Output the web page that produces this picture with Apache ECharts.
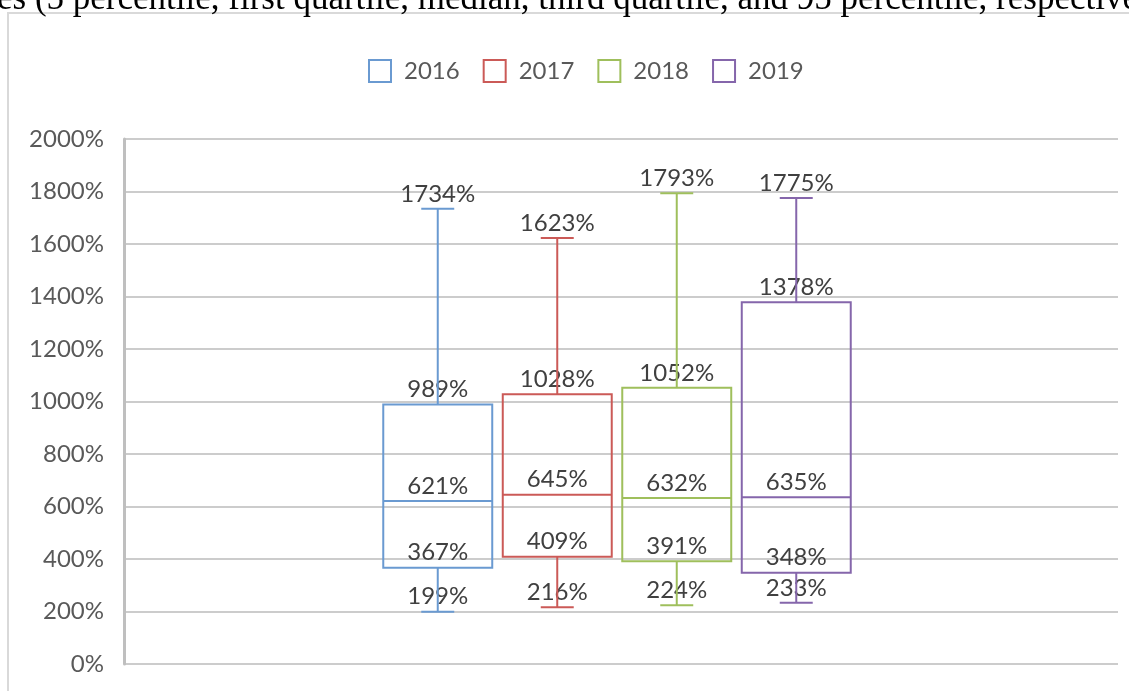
<!DOCTYPE html>
<html>
<head>
<meta charset="utf-8">
<script src="https://cdn.jsdelivr.net/npm/echarts@6/dist/echarts.min.js"></script>
<style>
  html, body { margin: 0; padding: 0; background: #ffffff; }
  #chart { width: 1129px; height: 691px; }
</style>
</head>
<body>
<div id="chart"></div>
<script>
// ---- data ----
const years  = ['2016', '2017', '2018', '2019'];
const p5     = [199, 216, 224, 233];
const q1     = [367, 409, 391, 348];
const median = [621, 645, 632, 635];
const q3     = [989, 1028, 1052, 1378];
const p95    = [1734, 1623, 1793, 1775];
const yMin = 0, yMax = 2000, yStep = 200;
const caption = 'es (5 percentile, first quartile, median, third quartile, and 95 percentile, respectively)';

// ---- styles ----
const colors = ['#6a9ad1', '#cb5a57', '#9fbf5c', '#8566ab'];
const labelColor = '#404040';
const axisColor = '#595959';
const labelFont = '24px Lato';

const chart = echarts.init(document.getElementById('chart'), null, { renderer: 'canvas' });

function makeRender(color) {
  return function (params, api) {
    const i = api.value(0);
    const cx = api.coord([i, 0])[0];
    const band = api.size([1, 0])[0];
    const half = band * 0.456;
    const capHalf = band * 0.138;
    const yOf = (k) => api.coord([i, api.value(k)])[1];
    const yP5 = yOf(1), yQ1 = yOf(2), yMed = yOf(3), yQ3 = yOf(4), yP95 = yOf(5);
    const ls = { stroke: color, lineWidth: 2, fill: null };
    const children = [];
    [1, 2, 3, 4, 5].forEach(function (k) {
      children.push({
        type: 'text',
        style: {
          text: api.value(k) + '%',
          x: cx, y: yOf(k) - 15,
          align: 'center', verticalAlign: 'middle',
          font: labelFont, fill: labelColor
        },
        z2: 1
      });
    });
    children.push(
      { type: 'rect', shape: { x: cx - half, y: yQ3, width: half * 2, height: yQ1 - yQ3 }, style: ls, z2: 5 },
      { type: 'line', shape: { x1: cx - half, y1: yMed, x2: cx + half, y2: yMed }, style: ls, z2: 5 },
      { type: 'line', shape: { x1: cx, y1: yQ3, x2: cx, y2: yP95 }, style: ls, z2: 5 },
      { type: 'line', shape: { x1: cx - capHalf, y1: yP95, x2: cx + capHalf, y2: yP95 }, style: ls, z2: 5 },
      { type: 'line', shape: { x1: cx, y1: yQ1, x2: cx, y2: yP5 }, style: ls, z2: 5 },
      { type: 'line', shape: { x1: cx - capHalf, y1: yP5, x2: cx + capHalf, y2: yP5 }, style: ls, z2: 5 }
    );
    return { type: 'group', children: children };
  };
}

const series = [
  { type: 'line', xAxisIndex: 0, yAxisIndex: 0, data: [], silent: true }
];
years.forEach(function (y, i) {
  series.push({
    name: y,
    type: 'custom',
    xAxisIndex: 1,
    yAxisIndex: 1,
    itemStyle: { color: colors[i] },
    renderItem: makeRender(colors[i]),
    encode: { x: 0, y: [1, 2, 3, 4, 5] },
    data: [[i, p5[i], q1[i], median[i], q3[i], p95[i]]]
  });
});

const option = {
  backgroundColor: '#ffffff',
  animation: false,
  graphic: [
    {
      type: 'rect', z: -10,
      shape: { x: 8, y: 13, width: 1300, height: 900 },
      style: { fill: '#ffffff', stroke: '#d9d9d9', lineWidth: 2 }
    },
    {
      type: 'text', z: -5,
      style: {
        text: caption, x: -3, y: 17,
        font: '35px "Liberation Serif"', fill: '#000000',
        align: 'left', verticalAlign: 'bottom'
      }
    }
  ],
  legend: {
    left: 363, top: 54,
    icon: 'rect',
    itemWidth: 22, itemHeight: 22,
    itemGap: 23,
    textStyle: { fontFamily: 'Lato', fontSize: 24, color: axisColor, padding: [0, 0, 0, 8] },
    data: years.map(function (y, i) {
      return { name: y, itemStyle: { color: '#ffffff', borderColor: colors[i], borderWidth: 2 } };
    })
  },
  grid: [
    { left: 124, right: 11, top: 139, bottom: 27, containLabel: false },
    { left: 378, width: 478, top: 139, bottom: 27, containLabel: false }
  ],
  xAxis: [
    { type: 'category', gridIndex: 0, data: [''], show: false },
    { type: 'category', gridIndex: 1, data: years, show: false }
  ],
  yAxis: [
    {
      type: 'value', gridIndex: 0, min: yMin, max: yMax, interval: yStep,
      axisLine: { show: true, lineStyle: { color: '#bfbfbf', width: 3 } },
      axisTick: { show: false },
      axisLabel: {
        formatter: function (v) { return v + '%'; },
        fontFamily: 'Lato', fontSize: 24, color: axisColor, margin: 20
      },
      splitLine: { show: true, lineStyle: { color: '#cccccc', width: 2 } }
    },
    { type: 'value', gridIndex: 1, min: yMin, max: yMax, show: false, splitLine: { show: false } }
  ],
  series: series
};

chart.setOption(option);
</script>
</body>
</html>
